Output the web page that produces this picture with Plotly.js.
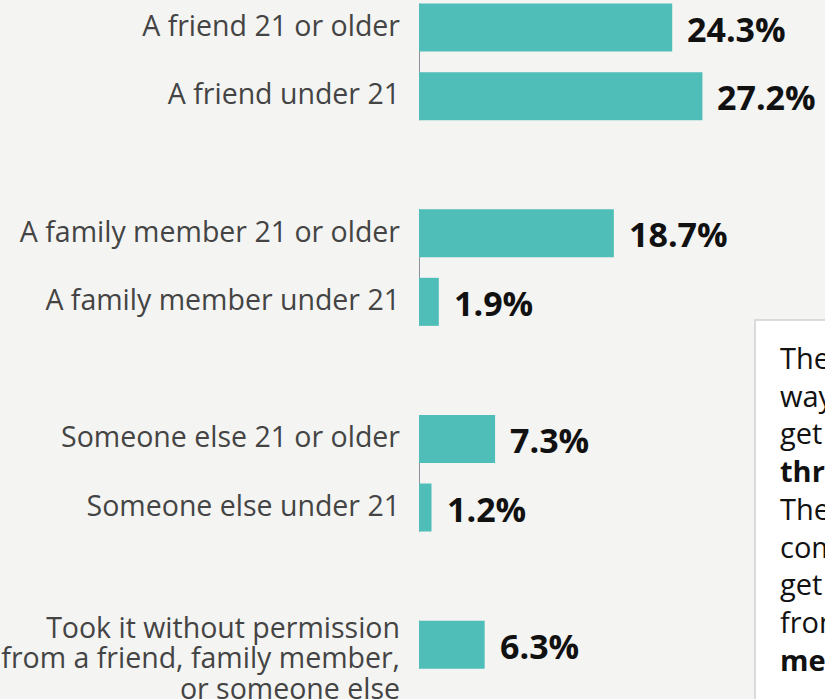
<!DOCTYPE html>
<html>
<head>
<meta charset="utf-8">
<script src="https://cdn.plot.ly/plotly-3.0.1.min.js"></script>
<style>
html, body { margin: 0; padding: 0; background: #f4f4f2; overflow: hidden; }
#chart { width: 825px; height: 699px; }
</style>
</head>
<body>
<div id="chart"></div>
<script>
// ---- data ----
const categories = [
  "A friend 21 or older",
  "A friend under 21",
  "A family member 21 or older",
  "A family member under 21",
  "Someone else 21 or older",
  "Someone else under 21",
  "Took it without permission<br>from a friend, family member,<br>or someone else"
];
const values = [24.3, 27.2, 18.7, 1.9, 7.3, 1.2, 6.3];
const groupIds = [0, 0, 1, 1, 2, 2, 3];
const noteLines = [
  "The most common",
  "way youth under 21",
  "get alcohol is",
  "<b>through a friend.</b>",
  "The second most",
  "common way they",
  "get alcohol is",
  "from a family",
  "<b>member.</b>"
];

// ---- layout constants ----
const W = 825, H = 699;
const ML = 419, MR = 0, MT = 0, MB = 0;
const plotW = W - ML - MR, plotH = H - MT - MB;
const BAR_COLOR = "#4fbdb8";
const BG = "#f4f4f2";
const FONT = "Open Sans, Noto Sans, sans-serif";

// build category slots with blank spacers between groups
const slots = [];
const spacerNames = [];
categories.forEach((c, i) => {
  if (i > 0 && groupIds[i] !== groupIds[i - 1]) {
    const s = " ".repeat(spacerNames.length + 1);
    spacerNames.push(s);
    slots.push(s);
  }
  slots.push(c);
});

const bargap = 0.30;
const half = (1 - bargap) / 2;

// axis line segments per group (drawn at x = 0)
const shapes = [];
let runStart = null;
slots.forEach((s, idx) => {
  const isCat = !spacerNames.includes(s);
  if (isCat && runStart === null) runStart = idx;
  const next = slots[idx + 1];
  const endRun = isCat && (next === undefined || spacerNames.includes(next));
  if (endRun) {
    shapes.push({
      type: "line", xref: "x", yref: "y",
      x0: 0, x1: 0, y0: runStart - half, y1: idx + half,
      line: { color: "#8c919b", width: 2 }, layer: "below"
    });
    runStart = null;
  }
});

// note box
const pxX = p => (p - ML) / plotW;
const pxY = p => 1 - (p - MT) / plotH;
shapes.push({
  type: "rect", xref: "paper", yref: "paper",
  x0: pxX(755), x1: pxX(900), y0: pxY(760), y1: pxY(320),
  fillcolor: "#ffffff", line: { color: "#cfcfcf", width: 1.5 }, layer: "above"
});

const annotations = values.map((v, i) => ({
  x: v, y: categories[i], xref: "x", yref: "y",
  text: "<b>" + v.toFixed(1) + "%</b>",
  showarrow: false, xanchor: "left", yanchor: "middle", xshift: 13, yshift: -1,
  font: { family: FONT, size: 34, color: "#111111" }
}));
annotations.push({
  xref: "paper", yref: "paper", x: pxX(779), y: pxY(337),
  xanchor: "left", yanchor: "top", align: "left", showarrow: false,
  borderpad: 0,
  text: noteLines.join("<br>"),
  font: { family: FONT, size: 29, color: "#111111" }
});

// tick labels: larger glyphs on a tighter line pitch; multi-line label sits a bit low like the reference
const tickText = categories.map(c => {
  const lines = c.split("<br>").map(l => '<span style="font-size:28.5px">' + l + '</span>');
  return (lines.length > 1 ? "<br>" : "") + lines.join("<br>");
});

const trace = {
  type: "bar", orientation: "h",
  x: values, y: categories,
  marker: { color: BAR_COLOR },
  hoverinfo: "none"
};

const layout = {
  width: W, height: H,
  margin: { l: ML, r: MR, t: MT, b: MB, pad: 0 },
  paper_bgcolor: BG, plot_bgcolor: BG,
  showlegend: false,
  bargap: bargap,
  xaxis: {
    range: [0, plotW / 10.42], visible: false, fixedrange: true
  },
  yaxis: {
    type: "category", categoryorder: "array", categoryarray: slots,
    range: [slots.length - 1 + 0.793, -0.4026], autorange: false,
    tickvals: categories, ticktext: tickText,
    ticks: "", showline: false, showgrid: false, zeroline: false,
    ticklabelstandoff: 18, automargin: false,
    tickfont: { family: FONT, size: 23.5, color: "#444444" }
  },
  shapes: shapes,
  annotations: annotations
};

Plotly.newPlot("chart", [trace], layout, { displayModeBar: false, staticPlot: true });
</script>
</body>
</html>
